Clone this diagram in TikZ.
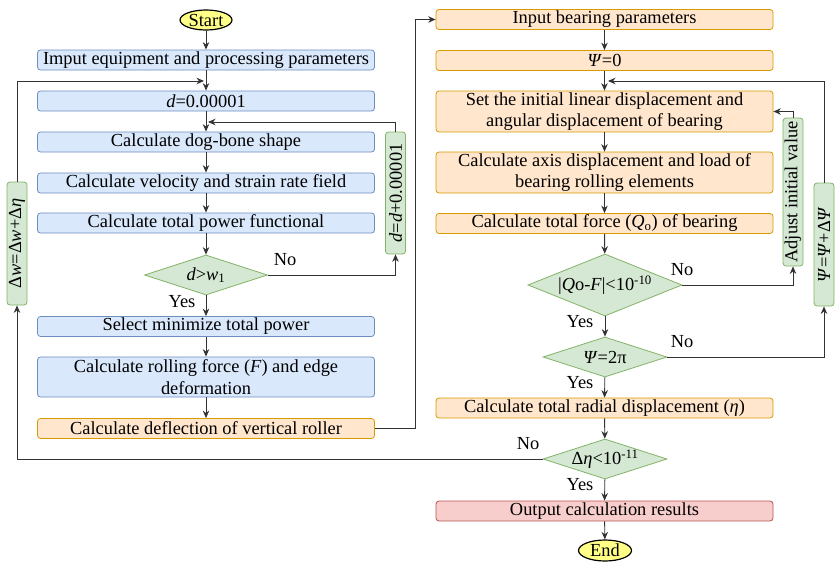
\documentclass[tikz,border=0pt]{standalone}
\usepackage{fontspec}
\setmainfont{Liberation Serif}
\usepackage{tikz}
\usetikzlibrary{arrows.meta,calc,positioning,shapes.geometric}
\definecolor{bluefill}{HTML}{DAE8FC}
\definecolor{blueline}{HTML}{6C8EBF}
\definecolor{orangefill}{HTML}{FFE6CC}
\definecolor{orangeline}{HTML}{D79B00}
\definecolor{greenfill}{HTML}{D5E8D4}
\definecolor{greenline}{HTML}{82B366}
\definecolor{redfill}{HTML}{F8CECC}
\definecolor{redline}{HTML}{B85450}
\definecolor{termfill}{HTML}{FFFF88}

\begin{document}
\begin{tikzpicture}[x=1pt,y=-1pt,font=\fontsize{18.4}{21.5}\selectfont,
  proc/.style={rectangle,rounded corners=3pt,draw=blueline,fill=bluefill,line width=0.8pt,
    minimum width=337pt,minimum height=20pt,inner sep=0pt,align=center},
  bear/.style={proc,draw=orangeline,fill=orangefill},
  fin/.style={proc,draw=redline,fill=redfill},
  cond/.style={diamond,draw=greenline,fill=greenfill,line width=0.8pt,inner sep=0pt,
    minimum width=124pt,minimum height=40pt},
  upd/.style={rectangle,rounded corners=3pt,draw=greenline,fill=greenfill,line width=0.8pt,
    rotate=90,minimum height=20pt,inner sep=0pt},
  term/.style={ellipse,draw=black,fill=termfill,line width=1.2pt,inner sep=0pt,
    minimum width=52pt,minimum height=20pt},
  flow/.style={draw=black!80,line width=0.9pt,-{Stealth[length=7.5pt,width=6.5pt]}},
  lab/.style={inner sep=0pt}]
  \useasboundingbox (0,0) rectangle (835,562);

  \node[term] (start) at (206,20) {Start};
  \node[proc] (inp) at (206,60) {Imput equipment and processing parameters};
  \node[proc] (dinit) at (206,101) {\textit{d}=0.00001};
  \node[proc] (dog) at (206,142) {Calculate dog-bone shape};
  \node[proc] (vel) at (206,183) {Calculate velocity and strain rate field};
  \node[proc] (pow) at (206,223) {Calculate total power functional};
  \node[cond,minimum width=123pt] (dw) at (206,275) {\makebox[0pt]{\textit{d}>\textit{w}\textsubscript{1}}};
  \node[proc] (sel) at (206,326.5) {Select minimize total power};
  \node[proc,minimum height=40pt] (roll) at (206,377) {Calculate rolling force (\textit{F}) and edge\\deformation};
  \node[bear] (defl) at (206,428.5) {Calculate deflection of vertical roller};
  \node[upd,minimum width=122pt] (ddel) at (395.5,193) {\textit{d}=\textit{d}+0.00001};
  \node[upd,minimum width=123pt] (dwb) at (17,243.5) {Δ\textit{w}=Δ\textit{w}+Δ\textit{η}};

  \node[bear] (inbear) at (604.5,19.5) {Input bearing parameters};
  \node[bear] (psi0) at (604.5,60.5) {\textit{Ψ}=0};
  \node[bear,minimum height=41pt] (setini) at (604.5,111.5) {Set the initial linear displacement and\\angular displacement of bearing};
  \node[bear,minimum height=41pt] (axis) at (604.5,172.5) {Calculate axis displacement and load of\\bearing rolling elements};
  \node[bear] (force) at (604.5,223.5) {Calculate total force (\textit{Q}\textsubscript{o}) of bearing};
  \node[cond,minimum width=154pt,minimum height=62pt] (dq) at (605,285) {\makebox[0pt]{|\textit{Q}o-\textit{F}|<10\textsuperscript{-10}}};
  \node[cond] (dpsi) at (605,357) {\makebox[0pt]{\textit{Ψ}=2π}};
  \node[bear] (radial) at (604.5,408) {Calculate total radial displacement (\textit{η})};
  \node[cond] (deta) at (605,459) {\makebox[0pt]{Δ\textit{η}<10\textsuperscript{-11}}};
  \node[fin] (out) at (604.5,511) {Output calculation results};
  \node[term,minimum width=53pt,minimum height=21pt] (end) at (605,550.5) {End};
  \node[upd,minimum width=148pt] (adj) at (793,192) {Adjust initial value};
  \node[upd,minimum width=123pt] (psiinc) at (824,244.5) {\textit{Ψ}=\textit{Ψ}+Δ\textit{Ψ}};

  \node[lab] (no1) at (285,260) {No};
  \node[lab] (yes1) at (182,302) {Yes};
  \node[lab] (no2) at (682,270) {No};
  \node[lab] (yes2) at (580,322) {Yes};
  \node[lab] (no3) at (682,342) {No};
  \node[lab] (yes3) at (580,383) {Yes};
  \node[lab] (no4) at (528,444) {No};
  \node[lab] (yes4) at (580,485) {Yes};

  \coordinate (jd) at (208,122);
  \coordinate (jw) at (204,81);
  \coordinate (jp) at (608,81);
  \coordinate (c1) at (415,19.5);

  \draw[flow] (start) -- (inp);
  \draw[flow] (inp) -- (dinit);
  \draw[flow] (dinit) -- (dog);
  \draw[flow] (dog) -- (vel);
  \draw[flow] (vel) -- (pow);
  \draw[flow] (pow) -- (dw);
  \draw[flow] (dw) -- (sel);
  \draw[flow] (sel) -- (roll);
  \draw[flow] (roll) -- (defl);
  \draw[flow] (dw.east) -| (ddel.west);
  \draw[flow] (ddel.east) |- (jd);
  \draw[flow] (deta.west) -| (dwb.west);
  \draw[flow] (dwb.east) |- (jw);
  \draw[flow] (defl.east) -| (c1) -- (inbear.west);

  \draw[flow] (inbear) -- (psi0);
  \draw[flow] (psi0) -- (setini);
  \draw[flow] (setini) -- (axis);
  \draw[flow] (axis) -- (force);
  \draw[flow] (force) -- (dq);
  \draw[flow] (dq) -- (dpsi);
  \draw[flow] (dpsi) -- (radial);
  \draw[flow] (radial) -- (deta);
  \draw[flow] (deta) -- (out);
  \draw[flow] (out) -- (end);
  \draw[flow] (dq.east) -| (adj.west);
  \draw[flow] (adj.east) |- (setini.east);
  \draw[flow] (dpsi.east) -| (psiinc.west);
  \draw[flow] (psiinc.east) |- (jp);
\end{tikzpicture}
\end{document}
